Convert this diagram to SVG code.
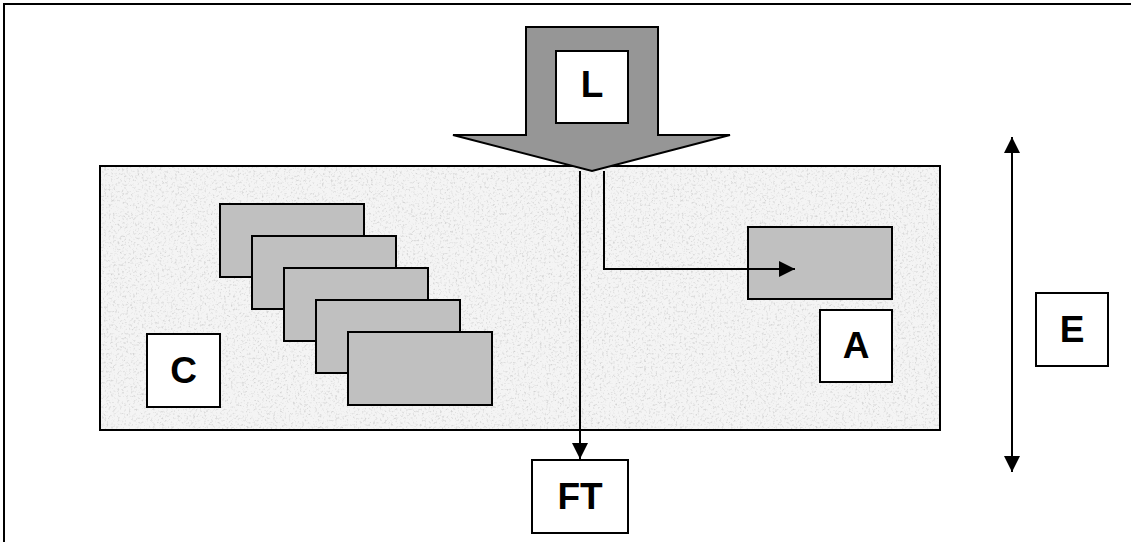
<svg xmlns="http://www.w3.org/2000/svg" width="1131" height="542" viewBox="0 0 1131 542">
<defs>
<filter id="granite" x="0" y="0" width="1" height="1">
<feTurbulence type="fractalNoise" baseFrequency="0.45" numOctaves="3" seed="4" result="n"/>
<feColorMatrix in="n" type="matrix" values="0 0 0 0 0  0 0 0 0 0  0 0 0 0 0  -2.2 0 0 0 1.05" result="a"/>
<feComponentTransfer in="a" result="b"><feFuncA type="linear" slope="0.55" intercept="0"/></feComponentTransfer>
<feFlood flood-color="#f4f4f4" result="bg"/>
<feFlood flood-color="#909090" result="dk"/>
<feComposite in="dk" in2="b" operator="in" result="sp"/>
<feMerge><feMergeNode in="bg"/><feMergeNode in="sp"/></feMerge>
</filter>
<marker id="ahs" viewBox="0 0 10 10" refX="10" refY="5" markerWidth="16" markerHeight="16" markerUnits="userSpaceOnUse" orient="auto-start-reverse">
<path d="M0,0 L10,5 L0,10 z" fill="#000"/>
</marker>
</defs>
<style>
.box{fill:#fff;stroke:#000;stroke-width:2}
.card{fill:#c0c0c0;stroke:#000;stroke-width:2}
.lbl{font-family:"Liberation Sans",Arial,sans-serif;font-weight:bold;font-size:37px;text-anchor:middle;fill:#000}
.conn{fill:none;stroke:#000;stroke-width:2}
</style>
<rect x="0" y="0" width="1131" height="542" fill="#fff"/>
<rect x="4" y="4" width="1160" height="580" fill="none" stroke="#000" stroke-width="2"/>

<g id="granite-area">
<rect x="100" y="166" width="840" height="264" fill="#eee" filter="url(#granite)"/>
<rect x="100" y="166" width="840" height="264" fill="none" stroke="#000" stroke-width="2"/>
</g>

<g id="load-arrow">
<path d="M526,27 L658,27 L658,135 L730,135 L592,171 L453,135 L526,135 Z" fill="#969696" stroke="#000" stroke-width="2" stroke-linejoin="miter"/>
</g>
<g id="node-L">
<rect class="box" x="556" y="51" width="72" height="72"/>
<text class="lbl" x="592" y="97">L</text>
</g>

<g id="cards">
<rect class="card" x="220" y="204" width="144" height="73"/>
<rect class="card" x="252" y="236" width="144" height="73"/>
<rect class="card" x="284" y="268" width="144" height="73"/>
<rect class="card" x="316" y="300" width="144" height="73"/>
<rect class="card" x="348" y="332" width="144" height="73"/>
</g>
<g id="node-C">
<rect class="box" x="147" y="334" width="73" height="73"/>
<text class="lbl" x="183.5" y="383">C</text>
</g>

<g id="target-rect">
<rect class="card" x="748" y="227" width="144" height="72"/>
</g>
<g id="node-A">
<rect class="box" x="820" y="310" width="72" height="72"/>
<text class="lbl" x="856" y="358">A</text>
</g>

<g id="node-FT">
<rect class="box" x="532" y="460" width="96" height="73"/>
<text class="lbl" x="580" y="509">FT</text>
</g>

<g id="node-E">
<rect class="box" x="1036" y="293" width="72" height="73"/>
<text class="lbl" x="1072" y="342">E</text>
</g>

<g id="connectors">
<path class="conn" d="M580,171 L580,459" marker-end="url(#ahs)"/>
<path class="conn" d="M604,171 L604,269 L795,269" marker-end="url(#ahs)"/>
<path class="conn" d="M1012,137 L1012,472" marker-start="url(#ahs)" marker-end="url(#ahs)"/>
</g>
</svg>
